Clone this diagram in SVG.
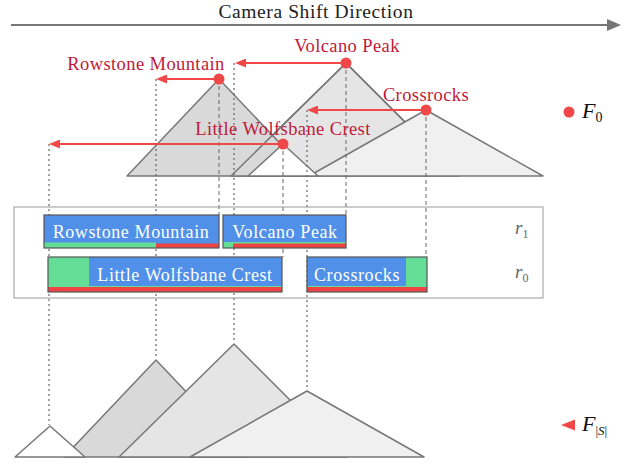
<svg xmlns="http://www.w3.org/2000/svg" width="635" height="466" viewBox="0 0 635 466">
<style>
.serif{font-family:"Liberation Serif","DejaVu Serif",serif;}
.mtn{stroke:#777;stroke-width:1.5;stroke-linejoin:round;}
.peakline{stroke:#666;stroke-width:1;stroke-dasharray:4 3;fill:none;}
.shiftline{stroke:#666;stroke-width:1.2;stroke-dasharray:2 3;fill:none;}
.arr{stroke:#f04848;stroke-width:2;fill:none;marker-end:url(#redhead);}
.dot{fill:#f04848;}
.lbl{fill:#c01a3a;font-size:18.5px;letter-spacing:0.4px;text-anchor:middle;}
.box{stroke:#555;stroke-width:1.2;fill:none;}
.blue{fill:#5090e8;}
.green{fill:#64de96;}
.red{fill:#f04444;}
.btxt{fill:#fff;font-size:18px;letter-spacing:0.6px;text-anchor:middle;}
.rlab{fill:#666;font-style:italic;}
</style>
<defs>
<marker id="redhead" viewBox="0 0 11 9" refX="5" refY="4.5" markerWidth="11" markerHeight="9" markerUnits="userSpaceOnUse" orient="auto">
<path d="M0,0 L11,4.5 L0,9 Z" fill="#f04848"/>
</marker>
<marker id="grayhead" viewBox="0 0 14 12" refX="4" refY="6" markerWidth="14" markerHeight="12" markerUnits="userSpaceOnUse" orient="auto">
<path d="M0,0 L14,6 L0,12 Z" fill="#777"/>
</marker>
</defs>
<rect width="635" height="466" fill="#fff"/>

<g id="title">
<text class="serif" x="316" y="17.5" font-size="19.5" letter-spacing="0.6" fill="#222" text-anchor="middle">Camera Shift Direction</text>
<line x1="11" y1="25" x2="611" y2="25" stroke="#777" stroke-width="2" marker-end="url(#grayhead)"/>
</g>

<g id="mountains-top">
<path class="mtn" d="M231,176 L346,63 L459,176 Z" fill="#e5e5e5"/>
<path class="mtn" d="M127,176 L219,79 L311,176 Z" fill="#d9d9d9"/>
<path class="mtn" d="M231,176 L346,63 L459,176" fill="none"/>
<path class="mtn" d="M309,176 L426,110 L543,176 Z" fill="#f0f0f0"/>
<path class="mtn" d="M248,176 L283,144 L318,176 Z" fill="#ffffff"/>
</g>

<g id="mountains-bottom">
<path class="mtn" d="M64,457 L156,360 L248,457 Z" fill="#d9d9d9"/>
<path class="mtn" d="M119,457 L234,344 L347,457 Z" fill="#e5e5e5"/>
<path class="mtn" d="M190,457 L307,391 L424,457 Z" fill="#f0f0f0"/>
<path class="mtn" d="M15,457 L50,426 L85,457 Z" fill="#ffffff"/>
</g>

<g id="connectors">
<line class="shiftline" x1="49" y1="144" x2="49" y2="425"/>
<line class="shiftline" x1="156" y1="79" x2="156" y2="359"/>
<line class="shiftline" x1="234" y1="63" x2="234" y2="343"/>
<line class="shiftline" x1="307" y1="110" x2="307" y2="390"/>
<line class="peakline" x1="219" y1="79" x2="219" y2="215"/>
<line class="peakline" x1="346" y1="63" x2="346" y2="215"/>
<line class="peakline" x1="283" y1="144" x2="283" y2="257"/>
<line class="peakline" x1="426" y1="110" x2="426" y2="257"/>
<line class="arr" x1="346" y1="63" x2="241" y2="63"/>
<line class="arr" x1="219" y1="79" x2="162" y2="79"/>
<line class="arr" x1="426" y1="110" x2="313" y2="110"/>
<line class="arr" x1="283" y1="144" x2="55" y2="144"/>
</g>

<g id="peak-labels">
<circle class="dot" cx="346" cy="63" r="5.5"/>
<circle class="dot" cx="219" cy="79" r="5.5"/>
<circle class="dot" cx="426" cy="110" r="5.5"/>
<circle class="dot" cx="283" cy="144" r="5.5"/>
<text class="serif lbl" x="347" y="52">Volcano Peak</text>
<text class="serif lbl" x="146" y="70">Rowstone Mountain</text>
<text class="serif lbl" x="426" y="101">Crossrocks</text>
<text class="serif lbl" x="283" y="135">Little Wolfsbane Crest</text>
</g>

<g id="rows">
<rect x="14" y="207" width="529" height="91" fill="none" stroke="#999" stroke-width="1"/>
<text class="serif rlab" x="515" y="234" font-size="19">r<tspan font-size="12" dy="4" font-style="normal">1</tspan></text>
<text class="serif rlab" x="515" y="278" font-size="19">r<tspan font-size="12" dy="4" font-style="normal">0</tspan></text>
</g>

<g id="box-rowstone">
<rect class="blue" x="44" y="215" width="175" height="33"/>
<rect class="green" x="44" y="242.5" width="112" height="5.5"/>
<rect class="red" x="156" y="243.5" width="63" height="4.5"/>
<rect class="box" x="44" y="215" width="175" height="33"/>
<text class="serif btxt" x="131" y="238">Rowstone Mountain</text>
</g>

<g id="box-volcano">
<rect class="blue" x="223" y="215" width="123" height="33"/>
<rect class="green" x="223" y="242" width="123" height="6"/>
<rect class="red" x="233" y="243.5" width="113" height="4.5"/>
<rect class="box" x="223" y="215" width="123" height="33"/>
<text class="serif btxt" x="285" y="238">Volcano Peak</text>
</g>

<g id="box-wolfsbane">
<rect class="green" x="48" y="257" width="234" height="35"/>
<rect class="blue" x="89" y="257" width="193" height="29"/>
<rect class="red" x="48" y="287" width="234" height="5"/>
<rect class="box" x="48" y="257" width="234" height="35"/>
<text class="serif btxt" x="185" y="281">Little Wolfsbane Crest</text>
</g>

<g id="box-crossrocks">
<rect class="green" x="307" y="257" width="120" height="35"/>
<rect class="blue" x="307" y="257" width="99" height="29"/>
<rect class="red" x="307" y="287" width="120" height="5"/>
<rect class="box" x="307" y="257" width="120" height="35"/>
<text class="serif btxt" x="357" y="281">Crossrocks</text>
</g>

<g id="legend">
<circle class="dot" cx="569" cy="112" r="5.5"/>
<text class="serif" x="582" y="118" font-size="22" font-style="italic" fill="#111">F<tspan font-size="14" font-style="normal" dy="4">0</tspan></text>
<path d="M561,425 L575,419.5 L575,430.5 Z" fill="#f04848"/>
<text class="serif" x="582" y="431" font-size="22" font-style="italic" fill="#111">F<tspan font-size="13" font-style="normal" dy="4">|</tspan><tspan font-size="13" font-style="italic">S</tspan><tspan font-size="13" font-style="normal">|</tspan></text>
</g>
</svg>
